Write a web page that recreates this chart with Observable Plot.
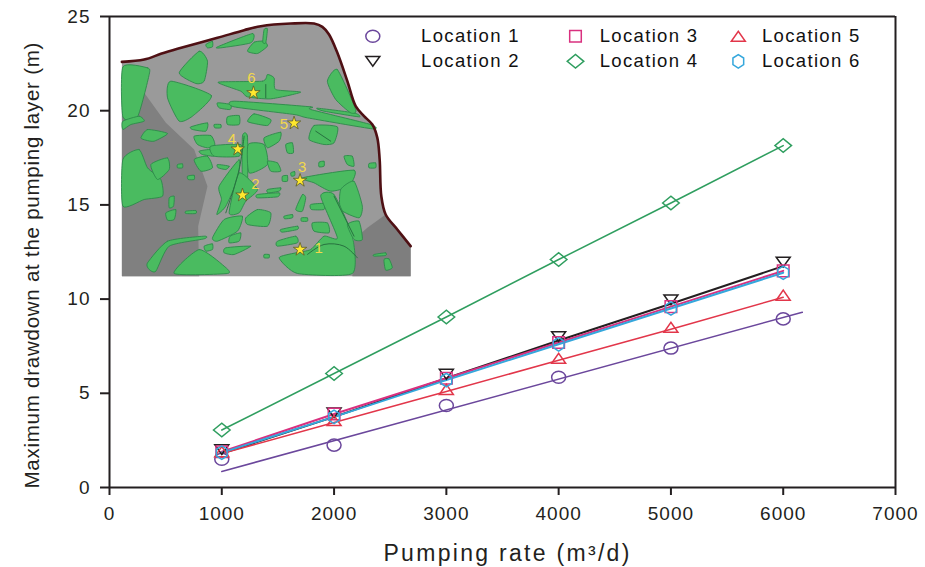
<!DOCTYPE html>
<html>
<head>
<meta charset="utf-8">
<script src="https://cdn.jsdelivr.net/npm/d3@7"></script>
<script src="https://cdn.jsdelivr.net/npm/@observablehq/plot@0.6"></script>
<style>
html,body{margin:0;padding:0;background:#fff;}
svg{display:block;}
</style>
</head>
<body>
<div id="chart"></div>
<script>
const rates = [1000, 2000, 3000, 4000, 5000, 6000];
const location1 = [1.5, 2.25, 4.35, 5.85, 7.4, 8.95];
const location2 = [1.8, 3.75, 5.8, 7.8, 9.75, 11.75];
const location3 = [1.9, 3.9, 5.8, 7.7, 9.6, 11.5];
const location4 = [3.05, 6.05, 9.05, 12.1, 15.1, 18.15];
const location5 = [1.8, 3.45, 5.1, 6.75, 8.4, 10.1];
const location6 = [1.85, 3.75, 5.7, 7.6, 9.5, 11.4];

// Location 1's trend line runs on its own, off its markers
const fit1Rates = [1000, 6170];
const fit1Values = [0.85, 9.3];

const xTicks = [0, 1000, 2000, 3000, 4000, 5000, 6000, 7000];
const yTicks = [0, 5, 10, 15, 20, 25];

const names = ["Location 1", "Location 2", "Location 3", "Location 4", "Location 5", "Location 6"];
const colors = ["#6b479c", "#231f20", "#d9307f", "#2f9e5f", "#e2364a", "#35a7dc"];
const xTitle = "Pumping rate (m³/d)";
const yTitle = "Maximum drawdown at the pumping layer (m)";

// Inset map drawing, in the inset's own survey units
const mapBoundary = [[33,157],[100,150],[150,133],[200,118],[320,85],[400,62],[450,50],[540,42],[610,42],[635,52],[655,75],[680,130],[710,215],[735,290],[760,320],[785,345],[800,385],[807,450],[812,560],[825,615],[860,660],[900,710]];
const darkLeft = [[33,240],[100,250],[165,340],[250,420],[290,530],[262,650],[265,800],[33,800]];
const darkRight = [[900,710],[825,615],[770,655],[730,690],[725,800],[900,800]];
const greenPatches = [
 [[36,172],[110,175],[115,195],[80,322],[36,322]],
 [[320,112],[425,72],[420,100],[330,115]],
 [[410,125],[430,98],[460,95],[470,110],[440,132]],
 [[460,60],[470,58],[465,100],[456,98]],
 [[285,105],[305,95],[305,112],[290,115]],
 [[205,190],[265,125],[290,155],[280,215],[255,222]],
 [[180,215],[302,258],[245,320],[205,335],[170,265]],
 [[322,218],[455,215],[470,195],[490,205],[495,240],[570,248],[480,268],[410,262],[390,245]],
 [[320,280],[360,285],[358,300],[325,295]],
 [[370,275],[600,292],[600,300],[780,345],[785,358],[590,325],[550,315],[370,292]],
 [[620,296],[730,310],[745,322],[640,305]],
 [[650,215],[680,180],[735,300],[720,310],[675,270]],
 [[350,322],[385,318],[385,345],[350,345]],
 [[410,335],[430,313],[480,330],[470,348],[430,342]],
 [[310,345],[330,345],[330,355],[312,355]],
 [[595,390],[610,348],[680,352],[670,400],[640,405]],
 [[240,352],[290,340],[285,365],[245,360]],
 [[250,380],[300,378],[312,405],[290,415],[260,405]],
 [[90,385],[110,360],[170,372],[130,395],[105,392]],
 [[36,335],[85,320],[100,335],[60,345],[36,360]],
 [[36,450],[85,420],[110,475],[150,510],[155,560],[100,570],[36,590]],
 [[120,465],[170,445],[175,480],[140,510]],
 [[250,450],[290,440],[305,475],[270,485]],
 [[265,425],[300,420],[310,440],[275,435]],
 [[320,465],[355,470],[345,480],[322,475]],
 [[395,380],[410,380],[410,520],[395,515]],
 [[300,410],[390,405],[385,440],[310,440]],
 [[412,405],[460,405],[470,465],[415,490]],
 [[460,385],[510,368],[505,395],[470,415]],
 [[525,405],[545,400],[548,430],[530,430]],
 [[470,455],[500,460],[510,485],[480,485]],
 [[325,530],[385,450],[380,510],[345,590],[318,615],[332,570]],
 [[355,610],[385,490],[440,540],[405,575],[385,610]],
 [[470,540],[510,535],[505,545],[472,550]],
 [[440,555],[505,550],[500,562],[440,565]],
 [[515,500],[530,498],[530,515],[515,515]],
 [[540,490],[552,486],[552,498],[542,500]],
 [[575,505],[730,482],[715,530],[660,545],[610,520]],
 [[700,440],[725,440],[730,470],[710,465]],
 [[625,458],[640,455],[640,470],[625,472]],
 [[775,462],[795,460],[795,475],[775,475]],
 [[555,600],[575,555],[585,565],[575,605]],
 [[600,585],[640,582],[640,600],[602,600]],
 [[690,540],[730,515],[755,590],[745,625],[690,600]],
 [[630,560],[670,555],[725,680],[725,792],[560,792],[505,745],[555,730],[600,720],[640,680],[680,685]],
 [[710,645],[745,635],[755,690],[730,690]],
 [[510,660],[560,650],[560,660],[515,668]],
 [[500,695],[555,680],[560,700],[500,710]],
 [[605,640],[650,640],[655,670],[610,665]],
 [[520,620],[545,615],[545,625],[522,628]],
 [[572,625],[590,625],[590,635],[572,635]],
 [[405,625],[440,600],[480,610],[470,650],[410,645]],
 [[340,630],[395,620],[380,665],[320,695],[305,685]],
 [[358,680],[390,670],[385,695],[355,700]],
 [[345,715],[420,710],[370,735],[340,730]],
 [[225,605],[255,603],[255,612],[225,612]],
 [[165,610],[195,600],[190,630],[170,632]],
 [[175,565],[190,560],[188,590],[175,595]],
 [[110,760],[170,695],[280,680],[280,688],[175,710],[135,785],[115,780]],
 [[190,792],[265,720],[340,770],[350,792]],
 [[280,710],[305,703],[305,720],[285,725]],
 [[820,750],[835,748],[845,775],[825,782]],
 [[230,500],[250,497],[250,510],[232,510]],
 [[200,465],[215,463],[215,475],[200,475]],
 [[460,735],[475,735],[475,745],[460,745]],
 [[790,735],[825,730],[825,738],[790,740]]
];
const channels = [
 [[590,735],[640,705],[700,710],[740,745]],
 [[345,610],[385,480],[400,380]],
 [[465,225],[465,265]],
 [[615,365],[660,395]],
 [[670,560],[730,680]]
];
const mapStars = [[568,720],[395,557],[568,513],[381,419],[550,341],[428,250]];
const starLabels = ["1","2","3","4","5","6"];
const starLabelAt = [[624,717],[434,525],[574,474],[363,388],[521,344],[422,205]];

// Inset placement in chart units: one survey unit along each axis
const insetX = u => 12.5 + u * 2.966;
const insetY = v => 25.37 - v * 0.01769;
const ring = (pts, id) => pts.map(([u, v], k) => ({x: insetX(u), y: insetY(v), id, k}));

const seriesValues = [location1, location2, location3, location4, location5, location6];
const points = seriesValues.flatMap((vals, s) => vals.map((v, i) => ({x: rates[i], y: v, s})));

// Symbols take half their width as r; the source figure is slightly wider than tall
const unit = size => Math.sqrt(size / Math.PI);
const triDown = {draw(c, size) {
  const r = unit(size);
  c.moveTo(-r, -r * 0.7); c.lineTo(r, -r * 0.7); c.lineTo(0, r * 0.7); c.closePath();
}};
const triUp = {draw(c, size) {
  const r = unit(size);
  c.moveTo(-r, r * 0.72); c.lineTo(r, r * 0.72); c.lineTo(0, -r * 0.72); c.closePath();
}};
const square = {draw(c, size) {
  const r = unit(size);
  c.rect(-r, -r, 2 * r, 2 * r);
}};
const diamond = {draw(c, size) {
  const r = unit(size);
  c.moveTo(-r, 0); c.lineTo(0, -r * 0.82); c.lineTo(r, 0); c.lineTo(0, r * 0.82); c.closePath();
}};
const hexagon = {draw(c, size) {
  const r = unit(size);
  for (let i = 0; i < 6; i++) {
    const a = Math.PI / 3 * i;
    const px = r * Math.sin(a), py = -r * Math.cos(a) * 1.08;
    i ? c.lineTo(px, py) : c.moveTo(px, py);
  }
  c.closePath();
}};
const circle = {draw(c, size) {
  const r = unit(size), h = r * 0.86, kx = r * 0.5523, ky = h * 0.5523;
  c.moveTo(r, 0);
  c.bezierCurveTo(r, ky, kx, h, 0, h);
  c.bezierCurveTo(-kx, h, -r, ky, -r, 0);
  c.bezierCurveTo(-r, -ky, -kx, -h, 0, -h);
  c.bezierCurveTo(kx, -h, r, -ky, r, 0);
  c.closePath();
}};
const symbols = [circle, triDown, square, diamond, triUp, hexagon];
const radii = [7, 7, 5.8, 8.3, 7, 6.2];
const dotDy = [0, -4, 0, 0, -2, 0];

const legendX = [2345, 2345, 4150, 4150, 5600, 5600];
const legendLabelX = [2775, 2775, 4365, 4365, 5810, 5810];
const legendY = [23.95, 22.62, 23.95, 22.62, 23.95, 22.62];

const font = "Liberation Sans, Arial, sans-serif";
const ink = "#231f20";

const closed = {x: "x", y: "y", z: "id", stroke: "none", curve: "linear-closed"};
const marks = [
  // inset map
  Plot.line(ring([...mapBoundary, [900, 800], [33, 800]], "m"), {...closed, fill: "#9a9a9a"}),
  Plot.line(ring(darkLeft, "l"), {...closed, fill: "#808080"}),
  Plot.line(ring(darkRight, "r"), {...closed, fill: "#7e7e7e"}),
  Plot.line(greenPatches.flatMap((p, i) => ring(p, i)), {...closed, curve: "cardinal-closed", tension: 0.4, fill: "#4abb60", stroke: "#2d8a4a", strokeWidth: 0.9}),
  Plot.line(channels.flatMap((p, i) => ring(p, i)), {x: "x", y: "y", z: "id", stroke: "#27713f", strokeWidth: 1, curve: "catmull-rom"}),
  Plot.line(ring(mapBoundary, "b"), {x: "x", y: "y", z: "id", stroke: "#4f1014", strokeWidth: 2.6, curve: "catmull-rom"}),
  Plot.dot(ring(mapStars, "s"), {x: "x", y: "y", symbol: "star", r: 4.2, fill: "#ffe82e", stroke: "#5b5a2a", strokeWidth: 0.8}),
  Plot.text(starLabels, {x: (d, i) => insetX(starLabelAt[i][0]), y: (d, i) => insetY(starLabelAt[i][1]), text: d => d, fill: "#f2d84b", fontSize: 15, fontFamily: font}),

  // trend lines
  Plot.line(fit1Rates.map((x, i) => ({x, y: fit1Values[i]})), {x: "x", y: "y", stroke: colors[0], strokeWidth: 1.5}),
  ...[1, 3, 4, 2, 5].map(s => Plot.line(points.filter(d => d.s === s), {x: "x", y: "y", stroke: colors[s], strokeWidth: s === 3 || s === 4 ? 1.5 : 2})),

  // markers
  ...[0, 1, 2, 3, 4, 5].map(s => Plot.dot(points.filter(d => d.s === s), {x: "x", y: "y", symbol: symbols[s], r: radii[s], dy: dotDy[s], fill: "none", stroke: colors[s], strokeWidth: 1.5})),

  // legend
  ...names.map((n, s) => Plot.dot([{x: legendX[s], y: legendY[s]}], {x: "x", y: "y", symbol: symbols[s], r: radii[s], fill: "none", stroke: colors[s], strokeWidth: 1.5})),
  Plot.text(names, {x: (d, i) => legendLabelX[i], y: (d, i) => legendY[i], text: d => d, textAnchor: "start", fontSize: 18.5, fontFamily: font, fill: "#111"}),

  // frame
  Plot.ruleX([0, 7000], {stroke: ink, strokeWidth: 2, y1: 0, y2: 25}),
  Plot.ruleY([0, 25], {stroke: ink, strokeWidth: 2, x1: 0, x2: 7000}),
  Plot.axisX({ticks: xTicks, tickSize: 8, tickPadding: 11, tickFormat: d => String(d), stroke: ink, strokeWidth: 2, fontSize: 19, fontFamily: font, fill: ink, label: null}),
  Plot.axisY({ticks: yTicks, tickSize: 9, tickPadding: 10, tickFormat: d => String(d), stroke: ink, strokeWidth: 2, fontSize: 19, fontFamily: font, fill: ink, label: null}),
  Plot.text([xTitle], {x: 3545, y: -3.5, text: d => d, fontSize: 23, fontFamily: font, fill: ink, clip: false}),
  Plot.text([yTitle], {x: -685, y: 11.8, text: d => d, rotate: -90, fontSize: 20.5, fontFamily: font, fill: ink, clip: false})
];

const plot = Plot.plot({
  width: 925,
  height: 567,
  marginLeft: 109,
  marginRight: 30,
  marginTop: 16,
  marginBottom: 80,
  x: {domain: [0, 7000]},
  y: {domain: [0, 25]},
  style: {background: "#fff", overflow: "visible"},
  marks
});
// The source figure's type is set wide, so open up the tracking text by text
d3.select(plot).selectAll("text").each(function () {
  const t = this.textContent;
  const spacing = t === xTitle ? 2.3 : t === yTitle ? 0.75 : names.includes(t) ? 1.35 : /^\d{2,4}$|^0$|^5$/.test(t) ? 1 : 0;
  if (spacing) this.style.letterSpacing = spacing + "px";
});
document.getElementById("chart").appendChild(plot);
</script>
</body>
</html>
